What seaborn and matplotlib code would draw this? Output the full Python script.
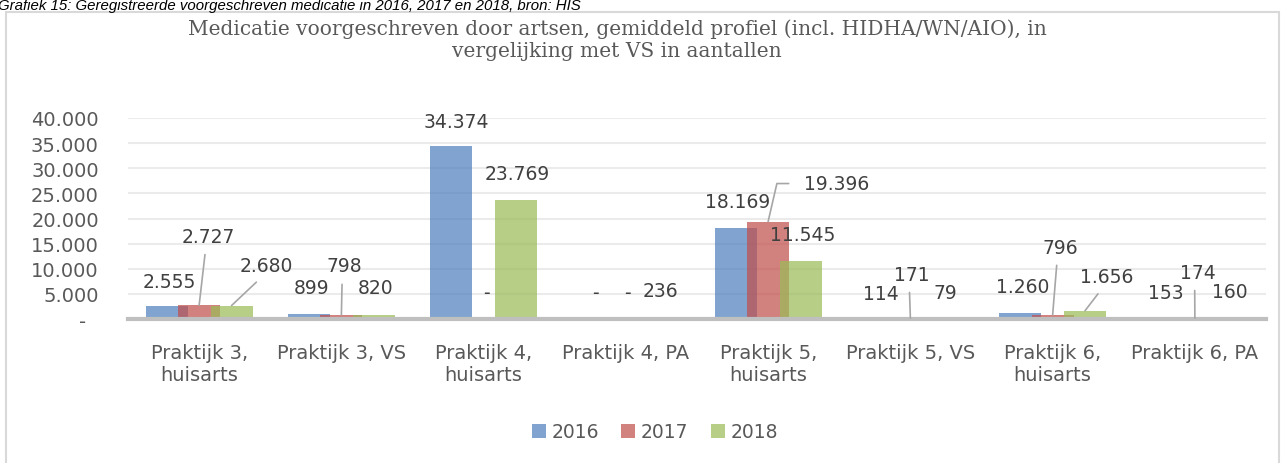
import matplotlib
matplotlib.use("Agg")
import matplotlib.pyplot as plt
from matplotlib.patches import Patch, Rectangle
from matplotlib.ticker import FixedLocator, FuncFormatter
import seaborn as sns
import pandas as pd

# ---------------- data ----------------
categories = ["Praktijk 3,\nhuisarts", "Praktijk 3, VS", "Praktijk 4,\nhuisarts", "Praktijk 4, PA",
              "Praktijk 5,\nhuisarts", "Praktijk 5, VS", "Praktijk 6,\nhuisarts", "Praktijk 6, PA"]
years = ["2016", "2017", "2018"]
values_2016 = [2555, 899, 34374, 0, 18169, 114, 1260, 153]
values_2017 = [2727, 798, 0, 0, 19396, 171, 796, 174]
values_2018 = [2680, 820, 23769, 236, 11545, 79, 1656, 160]
y_ticks = [0, 5000, 10000, 15000, 20000, 25000, 30000, 35000, 40000]
title = ("Medicatie voorgeschreven door artsen, gemiddeld profiel (incl. HIDHA/WN/AIO), in\n"
         "vergelijking met VS in aantallen")
header = "Grafiek 15: Geregistreerde voorgeschreven medicatie in 2016, 2017 en 2018, bron: HIS"

# ---------------- styles ----------------
colors = ["#4F81BD", "#C0504D", "#9BBB59"]
ALPHA = 0.72
TEXT = "#404040"
TICK = "#595959"
# label offsets in pixels (dx, dy-up) per series, per category
label_offsets = [
    [(3, 25), (3, 27), (5, 25), (2, 26), (2, 26), (3, 25), (2, 26), (3, 26)],
    [(9, 69), (3, 49), (3, 26), (2, 26), (69, 38), (1, 44), (8, 68), (3, 46)],
    [(35, 40), (2, 27), (1, 26), (2, 27), (2, 26), (3, 26), (22, 34), (3, 27)],
]
leaders = {
    (1, 0): (0.46, 0.0), (1, 1): (0.44, 0.0), (1, 5): (0.44, 0.0), (1, 6): (0.41, 0.0),
    (1, 7): (0.41, 0.0), (2, 0): (0.45, 0.0), (2, 6): (0.44, 0.0),
}
elbow_leaders = {(1, 4): (0.0, 0.5)}

sns.set_style("white")
plt.rcParams["font.family"] = ["DejaVu Sans"]

W, H = 1284, 464
fig = plt.figure(figsize=(W / 100, H / 100), dpi=100)
ax = fig.add_axes([128 / W, 1 - 320 / H, (1266 - 128) / W, 201 / H])

df = pd.DataFrame({
    "categorie": categories * 3,
    "jaar": [y for y in years for _ in categories],
    "aantal": values_2016 + values_2017 + values_2018,
})

sns.barplot(data=df, x="categorie", y="aantal", hue="jaar", order=categories, hue_order=years,
            palette=colors, saturation=1, alpha=ALPHA, errorbar=None, linewidth=0,
            legend=False, ax=ax)

# Excel-style overlapping bars
bar_w = 0.295
step = 0.228
for i, cont in enumerate(ax.containers):
    for bar in cont:
        j = round(bar.get_x() + bar.get_width() / 2)
        c = j + (i - 1) * step
        bar.set_x(c - bar_w / 2)
        bar.set_width(bar_w)
        bar.set_zorder(2 + i)


def fmt(v):
    if v == 0:
        return "-"
    return f"{int(round(v)):,}".replace(",", ".")


for i, cont in enumerate(ax.containers):
    for bar in cont:
        j = round(bar.get_x() + bar.get_width() / 2)
        v = bar.get_height()
        xc = bar.get_x() + bar.get_width() / 2
        dx, dy = label_offsets[i][j]
        kw = dict(xy=(xc, v), xytext=(dx, dy), textcoords="offset pixels",
                  ha="center", va="center", fontsize=13.5, color=TEXT, zorder=10)
        if (i, j) in leaders:
            kw["arrowprops"] = dict(arrowstyle="-", color="#A6A6A6", lw=1.2,
                                    relpos=leaders[(i, j)], shrinkA=4, shrinkB=0)
        elif (i, j) in elbow_leaders:
            kw["arrowprops"] = dict(arrowstyle="-", color="#A6A6A6", lw=1.2,
                                    relpos=elbow_leaders[(i, j)], shrinkA=9, shrinkB=0,
                                    connectionstyle="angle,angleA=0,angleB=77,rad=0")
        ax.annotate(fmt(v), **kw)

ax.set_ylim(0, 40000)
ax.set_xlim(-0.5, len(categories) - 0.5)
ax.yaxis.set_major_locator(FixedLocator(y_ticks))
ax.yaxis.set_major_formatter(FuncFormatter(lambda v, p: "-  " if v == 0 else fmt(v)))
ax.yaxis.grid(True, color="#EBEBEB", lw=1.5)
ax.set_axisbelow(True)
ax.set_xlabel("")
ax.set_ylabel("")
for s in ["top", "right", "left"]:
    ax.spines[s].set_visible(False)
ax.spines["bottom"].set_color("#BFBFBF")
ax.spines["bottom"].set_linewidth(3)
ax.spines["bottom"].set_zorder(6)
ax.tick_params(axis="y", length=0, pad=21, labelsize=14, labelcolor=TICK)
ax.tick_params(axis="x", length=0, pad=17, labelsize=14, labelcolor=TICK)
for t in ax.get_xticklabels():
    t.set_linespacing(1.25)

# title
fig.text(617 / W, 1 - 40 / H, title, ha="center", va="center", fontsize=14.5,
         family="DejaVu Serif", color=TICK, linespacing=1.2)

# document caption at the top (partly hidden behind the page edge in the source)
fig.text(-2 / W, 1 - 10 / H, header, ha="left", va="baseline", fontsize=10.8,
         family="Liberation Sans", style="italic", color="#000000")

# chart border
fig.add_artist(Rectangle((6 / W, -0.1), (1279 - 6) / W, (H - 13) / H + 0.1,
                         transform=fig.transFigure, fill=False, edgecolor="#D9D9D9", lw=1.5))

handles = [Patch(facecolor=c, alpha=ALPHA, edgecolor="none", label=y) for c, y in zip(colors, years)]
fig.legend(handles=handles, loc="center", bbox_to_anchor=(655 / W, 1 - 433 / H), ncol=3,
           frameon=False, handlelength=0.75, handleheight=0.75, columnspacing=1.2,
           handletextpad=0.3, fontsize=13.5, labelcolor=TICK)

fig.savefig("out.png", dpi=100)
